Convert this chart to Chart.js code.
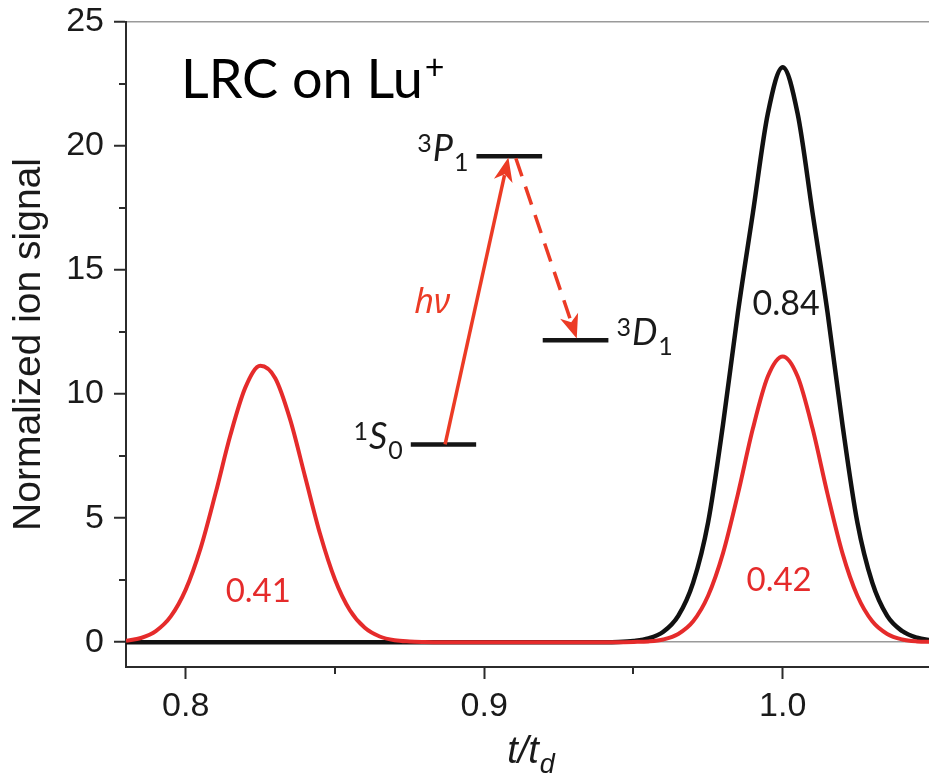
<!DOCTYPE html>
<html><head><meta charset="utf-8">
<script src="https://cdn.jsdelivr.net/npm/chart.js@4.4.1/dist/chart.umd.min.js"></script>
<style>html,body{margin:0;padding:0;background:#fff;overflow:hidden}</style>
</head><body>
<canvas id="c" width="929" height="779"></canvas>
<script>
// ---------- data ----------
const tValues = [
  0.780,0.785,0.790,0.795,0.800,0.805,0.810,0.815,0.820,0.825,0.830,
  0.835,0.840,0.845,0.850,0.855,0.860,0.865,0.870,0.875,0.880,
  0.885,0.890,0.895,0.900,0.905,0.910,0.915,0.920,0.925,0.930,0.935,0.940,0.945,
  0.950,0.955,0.960,0.965,0.970,0.975,0.980,0.985,0.990,0.995,1.000,
  1.005,1.010,1.015,1.020,1.025,1.030,1.035,1.040,1.045,1.050
];
const redSignal = [
  0.06,0.17,0.45,1.04,2.12,3.79,6.00,8.36,10.27,11.14,10.64,
  8.97,6.67,4.37,2.53,1.29,0.58,0.23,0.08,0.03,0.01,
  0,0,0,0,0,0,0,0,0,0,0,0,0,
  0.01,0.03,0.11,0.33,0.84,1.87,3.59,5.98,8.61,10.71,11.52,
  10.71,8.61,5.98,3.59,1.87,0.84,0.33,0.11,0.03,0.01
];
const blackSignal = [
  0,0,0,0,0,0,0,0,0,0,0,
  0,0,0,0,0,0,0,0,0,0,
  0,0,0,0,0,0,0,0,0,0,0,0,0.01,
  0.05,0.15,0.42,1.06,2.40,4.83,8.78,13.30,17.30,21.30,23.18,
  21.30,17.30,13.30,8.78,4.83,2.40,1.06,0.45,0.18,0.07
];
const xTickValues = [0.8, 0.9, 1.0];
const xTickLabels = ['0.8', '0.9', '1.0'];
const xMinorTicks = [0.85, 0.95];
const yTickValues = [0, 5, 10, 15, 20, 25];
const yTickLabels = ['0', '5', '10', '15', '20', '25'];
const yMinorTicks = [2.5, 7.5, 12.5, 17.5, 22.5];
const areaLabels = ['0.41', '0.42', '0.84'];

// ---------- styles ----------
const RED = '#e52b2b';
const ARROW = '#ec3b25';
const BLACK = '#111111';
const AXIS = '#2b2b2b';
const SANS = '"Liberation Sans", Arial, sans-serif';
const CAL = 'Lato, "Open Sans", sans-serif';

// annotation layer (data coordinates)
const levels = [
  {sup:'1', main:'S', sub:'0', x0:0.8754, x1:0.8973, y:7.97, side:'left'},
  {sup:'3', main:'P', sub:'1', x0:0.8974, x1:0.9194, y:19.59, side:'left'},
  {sup:'3', main:'D', sub:'1', x0:0.9196, x1:0.9416, y:12.17, side:'right'}
];
const solidArrow = {from:[0.8869, 7.97], to:[0.9081, 19.54]};
const dashArrow = {from:[0.9106, 19.51], to:[0.9310, 12.24]};

function arrowHead(ctx, tx, ty, ux, uy, L, W) {
  const nx = -uy, ny = ux;
  ctx.beginPath();
  ctx.moveTo(tx, ty);
  ctx.lineTo(tx - L*ux + W*nx, ty - L*uy + W*ny);
  ctx.lineTo(tx - 0.72*L*ux, ty - 0.72*L*uy);
  ctx.lineTo(tx - L*ux - W*nx, ty - L*uy - W*ny);
  ctx.closePath();
  ctx.fill();
}
function drawArrow(ctx, X, Y, a, dashed) {
  const sx = X(a.from[0]), sy = Y(a.from[1]);
  const tx = X(a.to[0]), ty = Y(a.to[1]);
  const len = Math.hypot(tx - sx, ty - sy);
  const ux = (tx - sx)/len, uy = (ty - sy)/len;
  const L = 24, W = 9.5;
  ctx.strokeStyle = ARROW; ctx.fillStyle = ARROW; ctx.lineWidth = 3.5;
  ctx.setLineDash(dashed ? [19, 11] : []);
  ctx.beginPath();
  ctx.moveTo(sx, sy);
  ctx.lineTo(tx - 0.75*L*ux, ty - 0.75*L*uy);
  ctx.stroke();
  ctx.setLineDash([]);
  arrowHead(ctx, tx, ty, ux, uy, L, W);
}
function levelLabel(ctx, lv, X, Y) {
  const fMain = 'italic 36px ' + CAL, fSmall = '25px ' + CAL;
  ctx.font = fSmall; const wSup = ctx.measureText(lv.sup).width; const wSub = ctx.measureText(lv.sub).width;
  ctx.font = fMain; const wMain = ctx.measureText(lv.main).width;
  const gap = 8;
  const total = wSup + 1 + wMain + 1 + wSub;
  const base = Y(lv.y) + 5;
  let x0 = lv.side === 'left' ? X(lv.x0) - gap - total : X(lv.x1) + gap;
  ctx.fillStyle = '#1a1a1a'; ctx.textAlign = 'left'; ctx.textBaseline = 'alphabetic';
  ctx.font = fSmall; ctx.fillText(lv.sup, x0, base - 9);
  ctx.font = fMain; ctx.fillText(lv.main, x0 + wSup + 1, base);
  ctx.font = fSmall; ctx.fillText(lv.sub, x0 + wSup + 1 + wMain + 1, base + 10);
}

const annot = {
  id: 'annot',
  beforeDraw(chart) {
    const c = chart.ctx; c.save(); c.fillStyle = '#fff'; c.fillRect(0, 0, chart.width, chart.height); c.restore();
  },
  afterDraw(chart) {
    const ctx = chart.ctx, xs = chart.scales.x, ys = chart.scales.y, ca = chart.chartArea;
    const X = v => xs.getPixelForValue(v), Y = v => ys.getPixelForValue(v);
    ctx.save();
    // minor ticks
    ctx.strokeStyle = AXIS; ctx.lineWidth = 2;
    yMinorTicks.forEach(v => { const p = Math.round(Y(v)); ctx.beginPath(); ctx.moveTo(ca.left - 7, p); ctx.lineTo(ca.left, p); ctx.stroke(); });
    xMinorTicks.forEach(v => { const p = Math.round(X(v)); ctx.beginPath(); ctx.moveTo(p, ca.bottom); ctx.lineTo(p, ca.bottom + 7); ctx.stroke(); });
    // energy levels
    ctx.strokeStyle = '#151515'; ctx.lineWidth = 4.5; ctx.lineCap = 'butt';
    levels.forEach(lv => { ctx.beginPath(); ctx.moveTo(X(lv.x0), Y(lv.y)); ctx.lineTo(X(lv.x1), Y(lv.y)); ctx.stroke(); });
    levels.forEach(lv => levelLabel(ctx, lv, X, Y));
    drawArrow(ctx, X, Y, solidArrow, false);
    drawArrow(ctx, X, Y, dashArrow, true);
    // h nu
    ctx.fillStyle = ARROW; ctx.font = 'italic 34px "Noto Sans", sans-serif'; ctx.textAlign = 'left'; ctx.textBaseline = 'alphabetic';
    ctx.fillText('h\u03BD', X(0.8766), Y(13.26));
    // title text
    ctx.fillStyle = '#000'; ctx.font = '54px ' + CAL;
    ctx.fillText('LRC on Lu', X(0.7984), Y(21.93));
    const w = ctx.measureText('LRC on Lu').width;
    ctx.font = '34px ' + CAL; ctx.fillText('+', X(0.7984) + w + 2, Y(21.93) - 19);
    // peak area labels
    ctx.textAlign = 'center'; ctx.textBaseline = 'middle';
    ctx.font = '33px ' + CAL; ctx.fillStyle = RED;
    ctx.fillText(areaLabels[0], X(0.8243), Y(2.05));
    ctx.fillText(areaLabels[1], X(0.9988), Y(2.49));
    ctx.font = '34px ' + CAL; ctx.fillStyle = '#1a1a1a';
    ctx.fillText(areaLabels[2], X(1.0011), Y(13.62));
    // x axis title t/t_d
    ctx.fillStyle = '#1a1a1a'; ctx.textBaseline = 'alphabetic'; ctx.textAlign = 'left';
    ctx.font = 'italic 38px ' + SANS; const w1 = ctx.measureText('t/t').width;
    ctx.font = 'italic 27px ' + SANS; const w2 = ctx.measureText('d').width;
    const cx = (ca.left + ca.right)/2 + 3, by = 763;
    const sx = cx - (w1 + w2)/2;
    ctx.font = 'italic 38px ' + SANS; ctx.fillText('t/t', sx, by);
    ctx.font = 'italic 27px ' + SANS; ctx.fillText('d', sx + w1 + 1, by + 10);
    ctx.restore();
  }
};

const points = arr => tValues.map((t, i) => ({x: t, y: arr[i]}));

new Chart(document.getElementById('c'), {
  type: 'line',
  data: {
    datasets: [
      {label: 'red', data: points(redSignal), borderColor: RED, borderWidth: 4, pointRadius: 0, cubicInterpolationMode: 'monotone', fill: false},
      {label: 'black', data: points(blackSignal), borderColor: BLACK, borderWidth: 4.5, pointRadius: 0, cubicInterpolationMode: 'monotone', fill: false}
    ]
  },
  options: {
    responsive: false, animation: false, devicePixelRatio: 1,
    layout: {padding: {top: 22, right: 0, left: 0, bottom: 0}},
    plugins: {legend: {display: false}, tooltip: {enabled: false}},
    scales: {
      x: {
        type: 'linear', min: 0.78, max: 1.049,
        afterBuildTicks: s => { s.ticks = xTickValues.map(v => ({value: v})); },
        afterFit: s => { s.height = 112; s.paddingLeft = 0; s.paddingRight = 0; },
        ticks: {autoSkip: false, maxRotation: 0, padding: 7, color: '#1a1a1a',
          font: {family: SANS, size: 34}, callback: (v, i) => xTickLabels[i]},
        grid: {drawOnChartArea: false, drawTicks: true, tickLength: 12, tickWidth: 2, tickColor: AXIS},
        border: {display: true, color: AXIS, width: 2}
      },
      y: {
        type: 'linear', min: -1, max: 25,
        afterBuildTicks: s => { s.ticks = yTickValues.map(v => ({value: v})); },
        afterFit: s => { s.width = 126; s.paddingTop = 0; s.paddingBottom = 0; },
        ticks: {padding: 10, color: '#1a1a1a', font: {family: SANS, size: 34}, callback: (v, i) => yTickLabels[i]},
        grid: {drawOnChartArea: true, drawTicks: true, tickLength: 12, tickWidth: 2, tickColor: AXIS, lineWidth: 1.5,
          color: c => (c.tick && (c.tick.value === 0 || c.tick.value === 25)) ? '#9a9a9a' : 'rgba(0,0,0,0)'},
        border: {display: true, color: AXIS, width: 2},
        title: {display: true, text: 'Normalized ion signal', color: '#1a1a1a',
          font: {family: SANS, size: 39}, padding: {top: 6, bottom: 0}}
      }
    }
  },
  plugins: [annot]
});
</script>
</body></html>
